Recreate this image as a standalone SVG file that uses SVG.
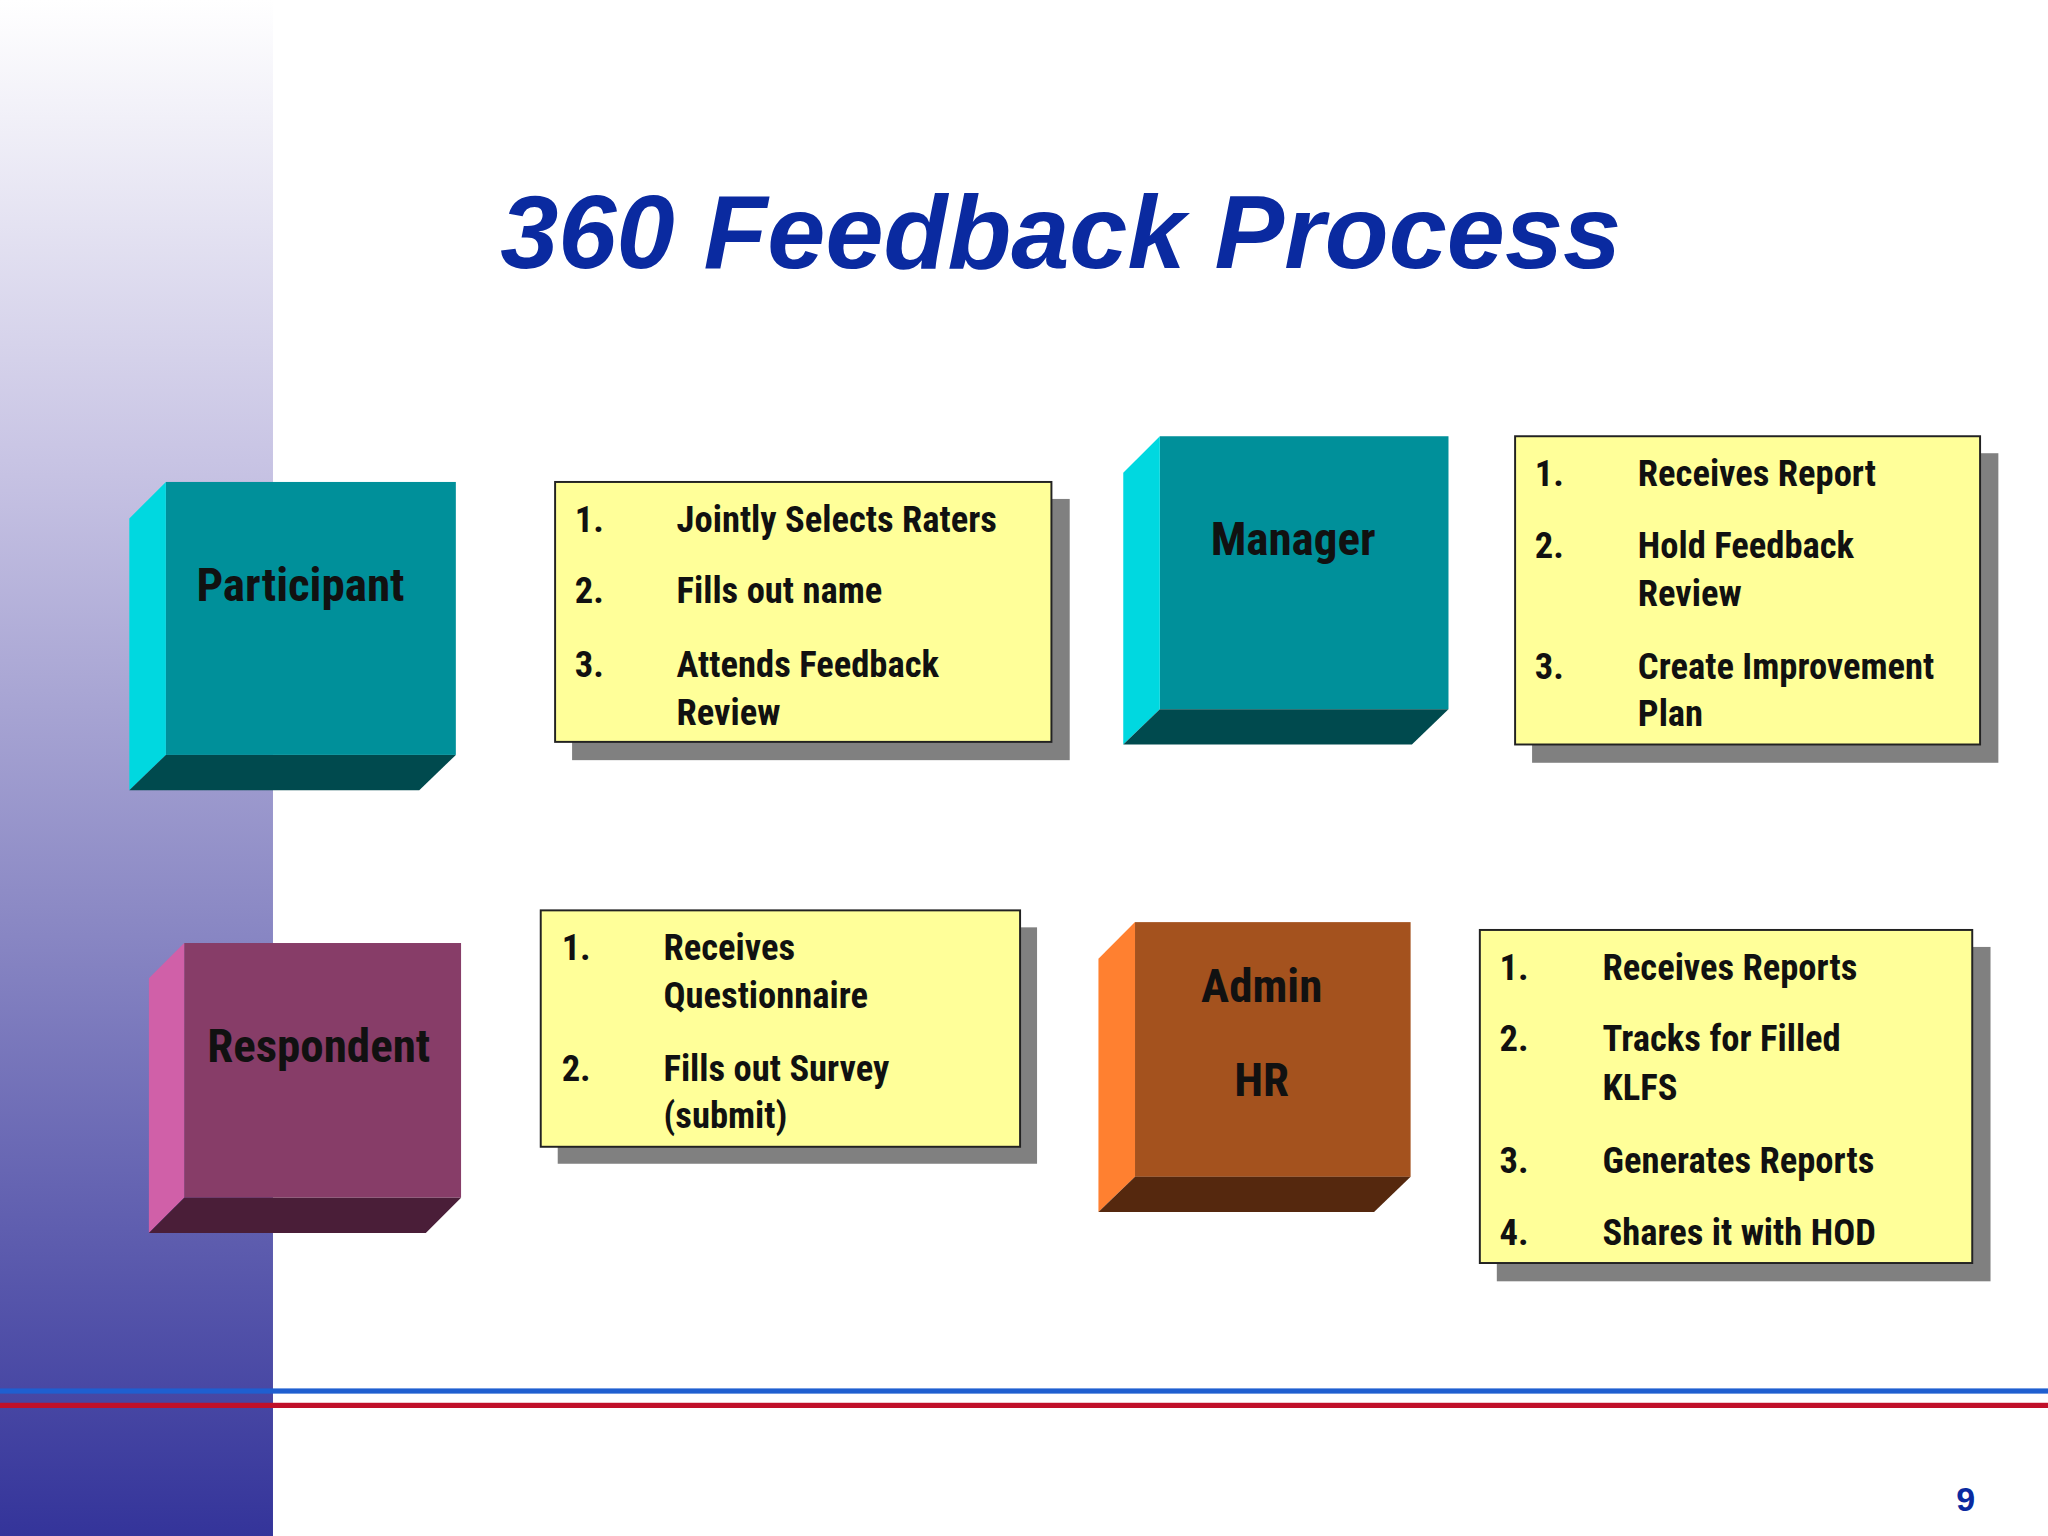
<svg xmlns="http://www.w3.org/2000/svg" width="2048" height="1536" viewBox="0 0 2048 1536">
<defs>
<linearGradient id="side" x1="0" y1="0" x2="0" y2="1">
<stop offset="0" stop-color="#ffffff"/><stop offset="0.3" stop-color="#c8c4e4"/><stop offset="0.6" stop-color="#8a88c4"/><stop offset="1" stop-color="#34349a"/>
</linearGradient>
<style>
.t{font-family:"Liberation Sans Narrow","Roboto Condensed","Liberation Sans",Arial,sans-serif;font-weight:bold;font-stretch:condensed;fill:#111}
.it{font-size:28px}
.nm{font-size:36px;text-anchor:middle}
.yb{fill:#ffff99;stroke:#222;stroke-width:1.5}
.sh{fill:#808080}
</style>
</defs>
<rect width="2048" height="1536" fill="#ffffff"/>
<g transform="scale(1.30612)">
<rect x="0" y="0" width="209" height="1176" fill="url(#side)"/>
<rect x="0" y="1063" width="1568" height="4" fill="#1f5fd0"/>
<rect x="0" y="1074" width="1568" height="4" fill="#c0102a"/>
<text x="383" y="205" font-family="Liberation Sans,Arial,sans-serif" font-weight="bold" font-style="italic" font-size="80" fill="#0a2aa0">360 Feedback Process</text>
<text x="1505" y="1157" font-family="Liberation Sans,Arial,sans-serif" font-weight="bold" font-size="26" fill="#0a2aa0" text-anchor="middle">9</text>

<g id="participant">
<rect x="127" y="369" width="222" height="209" fill="#00909a"/>
<polygon points="99,397 127,369 127,578 99,605" fill="#00d8e0"/>
<polygon points="127,578 349,578 321,605 99,605" fill="#004a4e"/>
<text class="t nm" x="230" y="460">Participant</text>
</g>
<g id="participant-tasks">
<rect class="sh" x="438" y="382" width="381" height="200"/>
<rect class="yb" x="425" y="369" width="380" height="199"/>
<g class="t it"><text x="440" y="407">1.</text><text x="518" y="407">Jointly Selects Raters</text>
<text x="440" y="462">2.</text><text x="518" y="462">Fills out name</text>
<text x="440" y="518">3.</text><text x="518" y="518">Attends Feedback</text><text x="518" y="555">Review</text></g>
</g>
<g id="manager">
<rect x="888" y="334" width="221" height="209" fill="#00909a"/>
<polygon points="860,362 888,334 888,543 860,570" fill="#00d8e0"/>
<polygon points="888,543 1109,543 1081,570 860,570" fill="#004a4e"/>
<text class="t nm" x="990" y="425">Manager</text>
</g>
<g id="manager-tasks">
<rect class="sh" x="1173" y="347" width="357" height="237"/>
<rect class="yb" x="1160" y="334" width="356" height="236"/>
<g class="t it"><text x="1175" y="372">1.</text><text x="1254" y="372">Receives Report</text>
<text x="1175" y="427">2.</text><text x="1254" y="427">Hold Feedback</text><text x="1254" y="464">Review</text>
<text x="1175" y="520">3.</text><text x="1254" y="520">Create Improvement</text><text x="1254" y="556">Plan</text></g>
</g>
<g id="respondent">
<rect x="141" y="722" width="212" height="195" fill="#873d68"/>
<polygon points="114,749 141,722 141,917 114,944" fill="#d060a8"/>
<polygon points="141,917 353,917 326,944 114,944" fill="#4a1e38"/>
<text class="t nm" x="244" y="813">Respondent</text>
</g>
<g id="respondent-tasks">
<rect class="sh" x="427" y="710" width="367" height="181"/>
<rect class="yb" x="414" y="697" width="367" height="181"/>
<g class="t it"><text x="430" y="735">1.</text><text x="508" y="735">Receives</text><text x="508" y="772">Questionnaire</text>
<text x="430" y="828">2.</text><text x="508" y="828">Fills out Survey</text><text x="508" y="864">(submit)</text></g>
</g>
<g id="admin">
<rect x="869" y="706" width="211" height="195" fill="#a4521e"/>
<polygon points="841,734 869,706 869,901 841,928" fill="#ff8030"/>
<polygon points="869,901 1080,901 1052,928 841,928" fill="#55280e"/>
<text class="t nm" x="966" y="767">Admin</text>
<text class="t nm" x="966" y="839">HR</text>
</g>
<g id="admin-tasks">
<rect class="sh" x="1146" y="725" width="378" height="256"/>
<rect class="yb" x="1133" y="712" width="377" height="255"/>
<g class="t it"><text x="1148" y="750">1.</text><text x="1227" y="750">Receives Reports</text>
<text x="1148" y="805">2.</text><text x="1227" y="805">Tracks  for  Filled</text><text x="1227" y="842">KLFS</text>
<text x="1148" y="898">3.</text><text x="1227" y="898">Generates Reports</text>
<text x="1148" y="953">4.</text><text x="1227" y="953">Shares it with HOD</text></g>
</g>
<g id="connectors"></g>
</g>
</svg>
